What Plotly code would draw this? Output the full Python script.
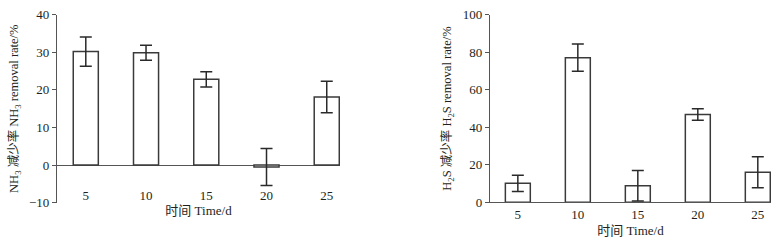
import plotly.graph_objects as go

days = [5, 10, 15, 20, 25]
nh3_rate = [30.2, 29.9, 22.8, -0.5, 18.1]
nh3_err = [3.9, 2.0, 2.0, 4.9, 4.2]
h2s_rate = [10.1, 77.1, 8.8, 46.8, 16.0]
h2s_err = [4.3, 7.3, 8.1, 3.1, 8.3]
x_ticks = ["5", "10", "15", "20", "25"]

FONT = "Liberation Serif, Noto Sans CJK SC, serif"
TXT = "#231f20"
AX = "#555555"
BAR_LINE = "#3a3a3a"
W = 2.08

fig = go.Figure()
fig.add_trace(go.Bar(
    x=days, y=nh3_rate, width=W, xaxis="x", yaxis="y",
    marker=dict(color="white", line=dict(color=BAR_LINE, width=1.5)),
    error_y=dict(type="data", array=nh3_err, visible=True, color="#2a2a2a", thickness=1.5, width=6),
    showlegend=False,
))
fig.add_trace(go.Bar(
    x=days, y=h2s_rate, width=W, xaxis="x2", yaxis="y2",
    marker=dict(color="white", line=dict(color=BAR_LINE, width=1.5)),
    error_y=dict(type="data", array=h2s_err, visible=True, color="#2a2a2a", thickness=1.5, width=6),
    showlegend=False,
))

tickfont = dict(family=FONT, size=13, color=TXT)
titlefont = dict(family=FONT, size=13, color=TXT)
ytitlefont = dict(family=FONT, size=12.5, color=TXT)

fig.update_layout(
    width=782, height=243,
    margin=dict(l=0, r=0, t=0, b=0, autoexpand=False),
    paper_bgcolor="white", plot_bgcolor="white",
    font=dict(family=FONT, color=TXT),
    xaxis=dict(
        domain=[57 / 782, 340 / 782], range=[2.61, 26.1],
        anchor="free", position=(243 - 186) / 243, automargin=False,
        tickvals=days, ticktext=x_ticks, showline=False, showgrid=False,
        zeroline=False, ticks="", tickfont=tickfont,
        title=dict(text="时间 Time/d", font=titlefont, standoff=3),
    ),
    yaxis=dict(
        domain=[(243 - 202.7) / 243, (243 - 14.7) / 243], range=[-10, 40],
        anchor="x", tickvals=[-10, 0, 10, 20, 30, 40], automargin=False,
        showline=True, linecolor=AX, linewidth=1.2, ticks="outside", ticklen=4,
        tickcolor=AX, showgrid=False, zeroline=True, zerolinecolor=AX, zerolinewidth=1.2,
        tickfont=tickfont,
        title=dict(text="NH<sub>3</sub> 减少率 NH<sub>3</sub> removal rate/%", font=ytitlefont, standoff=7),
    ),
    xaxis2=dict(
        domain=[490 / 782, 771 / 782], range=[2.68, 26.1], anchor="y2", automargin=False,
        tickvals=days, ticktext=x_ticks, showline=True, linecolor=AX, linewidth=1.2,
        showgrid=False, zeroline=False, ticks="", tickfont=tickfont,
        title=dict(text="时间 Time/d", font=titlefont, standoff=4),
    ),
    yaxis2=dict(
        domain=[(243 - 202.3) / 243, (243 - 14.7) / 243], range=[0, 100],
        anchor="x2", tickvals=[0, 20, 40, 60, 80, 100], automargin=False,
        showline=True, linecolor=AX, linewidth=1.2, ticks="outside", ticklen=4,
        tickcolor=AX, showgrid=False, zeroline=False,
        tickfont=tickfont,
        title=dict(text="H<sub>2</sub>S 减少率 H<sub>2</sub>S removal rate/%", font=ytitlefont, standoff=8),
    ),
)

fig.write_html("out.html")
